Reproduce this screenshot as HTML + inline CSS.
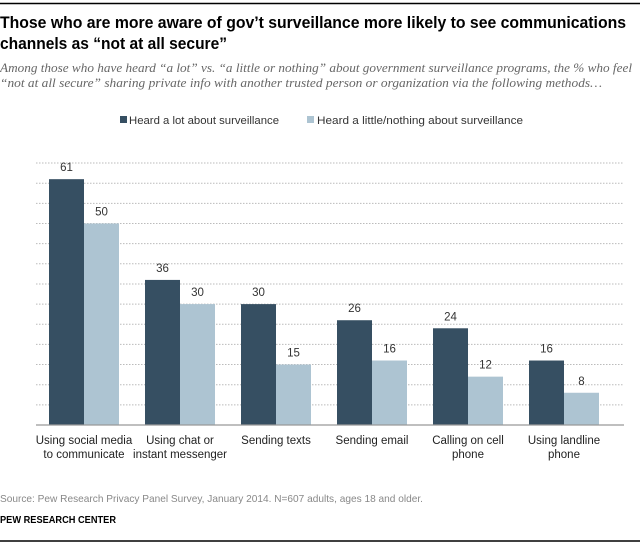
<!DOCTYPE html>
<html><head><meta charset="utf-8"><style>
html,body{margin:0;padding:0;background:#fff;}
svg{display:block;font-family:"Liberation Sans",sans-serif;}
</style></head><body>
<svg id="chart" width="640" height="547" viewBox="0 0 640 547">
<line x1="0" y1="3.5" x2="640" y2="3.5" stroke="#000" stroke-width="1.5"/>
<text x="0" y="28" font-size="17" font-weight="bold" fill="#000" textLength="626" lengthAdjust="spacingAndGlyphs">Those who are more aware of gov’t surveillance more likely to see communications</text>
<text x="0" y="49" font-size="17" font-weight="bold" fill="#000" textLength="227" lengthAdjust="spacingAndGlyphs">channels as “not at all secure”</text>
<text x="0" y="72" font-size="12.5" font-style="italic" fill="#666" font-family="Liberation Serif,serif" textLength="632" lengthAdjust="spacingAndGlyphs">Among those who have heard “a lot” vs. “a little or nothing” about government surveillance programs, the % who feel</text>
<text x="0" y="87" font-size="12.5" font-style="italic" fill="#666" font-family="Liberation Serif,serif" textLength="602" lengthAdjust="spacingAndGlyphs">“not at all secure” sharing private info with another trusted person or organization via the following methods…</text>
<g>
<rect x="120" y="116" width="7" height="7" fill="#364f62"/>
<text x="129" y="124" font-size="11" fill="#333" textLength="150" lengthAdjust="spacingAndGlyphs">Heard a lot about surveillance</text>
<rect x="307" y="116" width="7" height="7" fill="#adc4d2"/>
<text x="317" y="124" font-size="11" fill="#333" textLength="206" lengthAdjust="spacingAndGlyphs">Heard a little/nothing about surveillance</text>
</g>
<g id="grid"></g><g id="bars"></g><g id="labels"></g>
<line x1="36" y1="425" x2="624" y2="425" stroke="#999" stroke-width="1.2"/>
<text x="0" y="502" font-size="10.5" fill="#888" textLength="423" lengthAdjust="spacingAndGlyphs">Source: Pew Research Privacy Panel Survey, January 2014. N=607 adults, ages 18 and older.</text>
<text x="0" y="523" font-size="10.5" font-weight="bold" fill="#000" textLength="116" lengthAdjust="spacingAndGlyphs">PEW RESEARCH CENTER</text>
<line x1="0" y1="541" x2="640" y2="541" stroke="#000" stroke-width="1.5"/>
</svg>
<script>
const categories = [["Using social media","to communicate"],["Using chat or","instant messenger"],["Sending texts"],["Sending email"],["Calling on cell","phone"],["Using landline","phone"]];
const heardALot = [61,36,30,26,24,16];
const heardLittle = [50,30,15,16,12,8];
const gridTicks = [5,10,15,20,25,30,35,40,45,50,55,60,65];
const NS="http://www.w3.org/2000/svg";
const base=425, pxPerUnit=4.03, x0=49, step=96, bw=35;
const y=v=>base-v*pxPerUnit;
const xg=i=>x0+i*step;
function mk(tag,attrs,parent){const e=document.createElementNS(NS,tag);for(const k in attrs)e.setAttribute(k,attrs[k]);parent.appendChild(e);return e;}
const grid=document.getElementById('grid'),bars=document.getElementById('bars'),labels=document.getElementById('labels');
gridTicks.forEach(t=>{
  const l=mk('line',{x1:36,x2:624,y1:y(t),y2:y(t),stroke:'#bbb','stroke-width':1,'stroke-dasharray':'1.5,1.5'},grid);
  
  
});
categories.forEach((c,i)=>{
  const xa=xg(i), xb=xg(i)+bw;
  const r1=mk('rect',{x:xa,y:y(heardALot[i]),width:bw,height:heardALot[i]*pxPerUnit,fill:'#364f62'},bars);
  
  
  const r2=mk('rect',{x:xb,y:y(heardLittle[i]),width:bw,height:heardLittle[i]*pxPerUnit,fill:'#adc4d2'},bars);
  
  
  const t1=mk('text',{x:xa+bw/2,y:y(heardALot[i])-8,'font-size':11.5,'text-anchor':'middle',fill:'#333'},labels);
  t1.textContent=heardALot[i];
  
  
  const t2=mk('text',{x:xb+bw/2,y:y(heardLittle[i])-8,'font-size':11.5,'text-anchor':'middle',fill:'#333'},labels);
  t2.textContent=heardLittle[i];
  
  
  c.forEach((line,j)=>{
    const ct=mk('text',{x:xa+bw,y:444+j*14,'font-size':11.5,'text-anchor':'middle',fill:'#222'},labels);
    ct.textContent=line;
    
    
  });
});
</script>
</body></html>
